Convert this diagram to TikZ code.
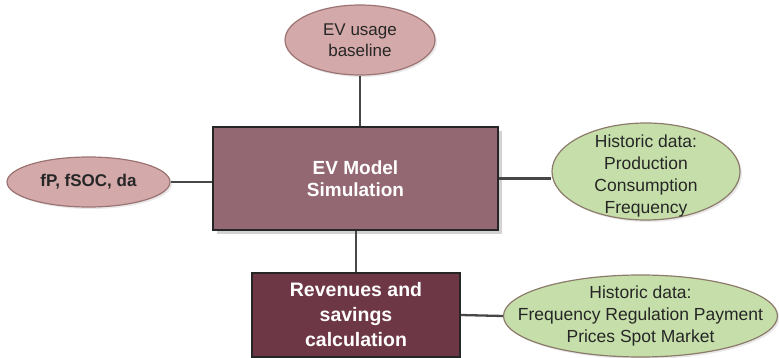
\documentclass[tikz,border=0pt]{standalone}
\usepackage{fontspec}
\setmainfont{Liberation Sans}
\usetikzlibrary{shapes.geometric,shadows}
\definecolor{pinkfill}{HTML}{D4A9A9}
\definecolor{pinkline}{HTML}{9C7373}
\definecolor{greenfill}{HTML}{C6DFAA}
\definecolor{greenline}{HTML}{8C7B6B}
\definecolor{mainfill}{HTML}{946873}
\definecolor{revfill}{HTML}{6E3745}
\definecolor{conn}{HTML}{474747}
\tikzset{
  pinkell/.style={ellipse, draw=pinkline, line width=1.2pt, fill=pinkfill, inner sep=0pt,
    drop shadow={shadow xshift=2pt, shadow yshift=-2pt, fill=black!18}},
  greenell/.style={ellipse, draw=greenline, line width=1.2pt, fill=greenfill, inner sep=0pt,
    drop shadow={shadow xshift=2pt, shadow yshift=-2pt, fill=black!18}},
  mainbox/.style={rectangle, draw=black!85, line width=1.3pt, fill=mainfill, inner sep=0pt,
    drop shadow={shadow xshift=4pt, shadow yshift=-4pt, fill=black!35}},
  revbox/.style={rectangle, draw=black!85, line width=1.3pt, fill=revfill, inner sep=0pt},
  reg/.style={align=center, font=\fontsize{17pt}{21.5pt}\selectfont, text=black!85},
  boldw/.style={align=center, font=\fontsize{19pt}{22.5pt}\selectfont\bfseries, text=white},
  conline/.style={draw=conn, line width=2.3pt}
}
\begin{document}
\begin{tikzpicture}[x=1pt,y=-1pt]
\useasboundingbox (0,0) rectangle (779,358);
% shapes
\node[pinkell, minimum width=150pt, minimum height=70pt] (ev) at (360,40) {};
\node[reg] (evt) at (ev.center) {EV usage\\baseline};
\node[pinkell, minimum width=163pt, minimum height=50pt] (fp) at (88.5,182) {};
\node[reg, font=\fontsize{17pt}{21pt}\selectfont\bfseries] (fpt) at (fp.center) {fP, fSOC, da};
\node[mainbox, minimum width=285pt, minimum height=103pt] (main) at (355.5,178.5) {};
\node[boldw] (maint) at (main.center) {EV Model\\Simulation};
\node[greenell, minimum width=188pt, minimum height=97pt] (h1) at (646,171.5) {};
\node[reg, font=\fontsize{17.5pt}{22pt}\selectfont] (h1t) at (646,176) {Historic data:\\Production\\Consumption\\Frequency};
\node[revbox, minimum width=208pt, minimum height=84pt] (rev) at (356,315) {};
\node[boldw, font=\fontsize{19.5pt}{25pt}\selectfont\bfseries] (revt) at (rev.center) {Revenues and\\savings\\calculation};
\node[greenell, minimum width=274pt, minimum height=82pt] (h2) at (640.5,316) {};
\node[reg, font=\fontsize{17.5pt}{22pt}\selectfont] (h2t) at (h2.center) {Historic data:\\Frequency Regulation Payment\\Prices Spot Market};
% connectors
\draw[conline] (ev.south) -- (ev.south |- main.north);
\draw[conline] (fp.east) -- (fp.east -| main.west);
\draw[conline] (main.east) -- (main.east -| h1.west);
\draw[conline] (rev.north) -- (rev.north |- main.south);
\draw[conline] (rev.east) -- (h2.west);
\end{tikzpicture}
\end{document}
